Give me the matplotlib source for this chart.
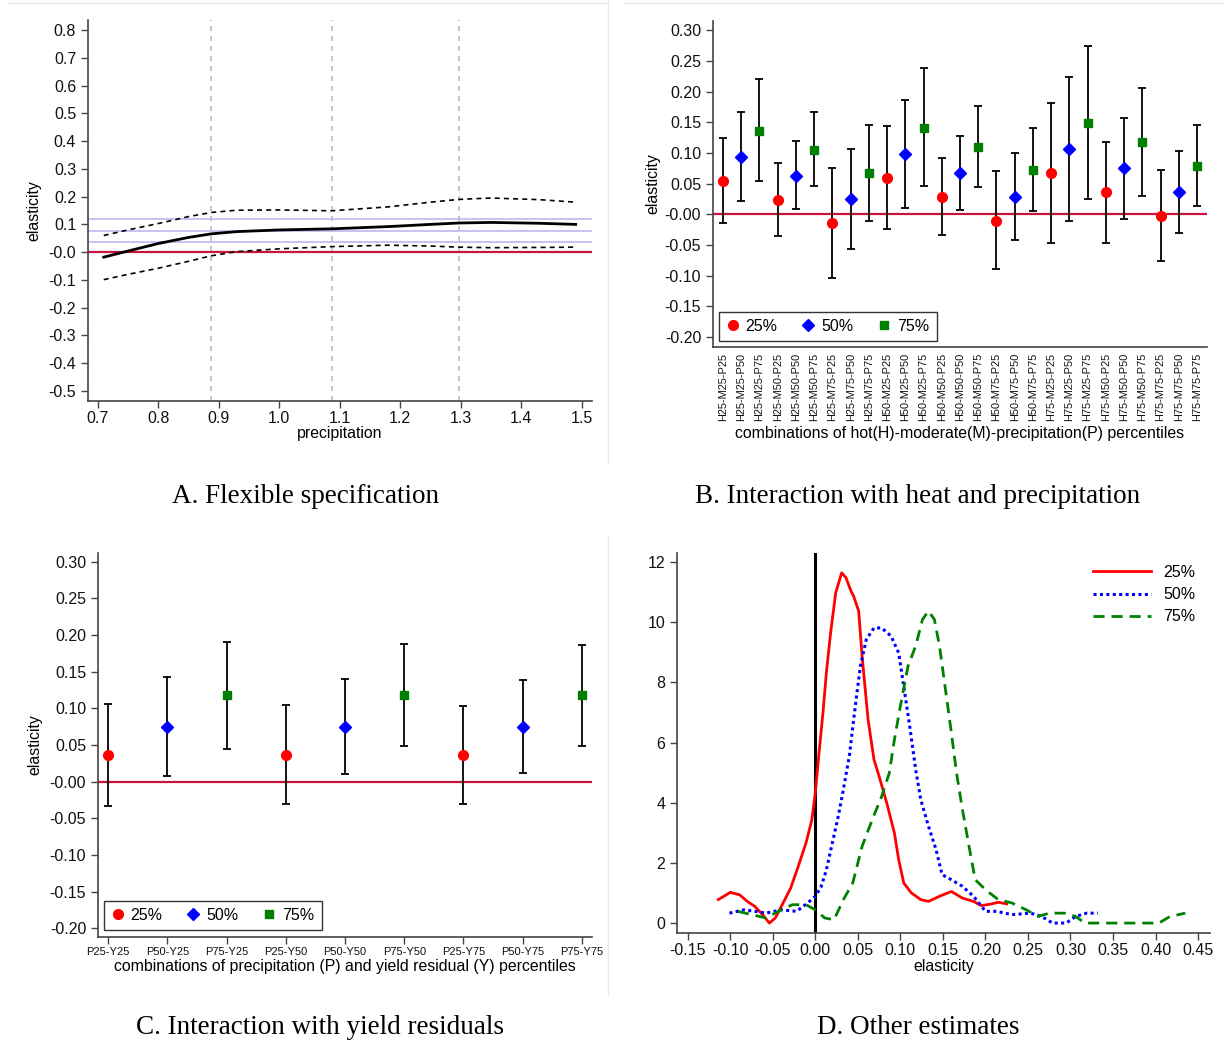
import numpy as np
import matplotlib
matplotlib.use("Agg")
import matplotlib.pyplot as plt
from matplotlib.lines import Line2D

plt.rcParams['font.family'] = ['Liberation Sans', 'DejaVu Sans']
plt.rcParams['axes.unicode_minus'] = False

# ---------------- data ----------------
# A. flexible specification
a_x = [0.71, 0.75, 0.80, 0.85, 0.888, 0.93, 1.00, 1.087, 1.18, 1.25, 1.297, 1.35, 1.43, 1.49]
a_est = [-0.018, 0.004, 0.031, 0.053, 0.066, 0.074, 0.080, 0.084, 0.092, 0.100, 0.105, 0.107, 0.104, 0.100]
a_hi = [0.060, 0.080, 0.103, 0.128, 0.143, 0.151, 0.152, 0.149, 0.163, 0.180, 0.190, 0.195, 0.189, 0.180]
a_lo = [-0.099, -0.080, -0.058, -0.033, -0.013, 0.002, 0.012, 0.020, 0.025, 0.022, 0.018, 0.016, 0.017, 0.018]
a_vlines = [0.888, 1.087, 1.297]
a_hlines = [0.037, 0.076, 0.118]

# B. heat x precipitation
b_labels = ['H25-M25-P25', 'H25-M25-P50', 'H25-M25-P75', 'H25-M50-P25', 'H25-M50-P50',
            'H25-M50-P75', 'H25-M75-P25', 'H25-M75-P50', 'H25-M75-P75', 'H50-M25-P25',
            'H50-M25-P50', 'H50-M25-P75', 'H50-M50-P25', 'H50-M50-P50', 'H50-M50-P75',
            'H50-M75-P25', 'H50-M75-P50', 'H50-M75-P75', 'H75-M25-P25', 'H75-M25-P50',
            'H75-M25-P75', 'H75-M50-P25', 'H75-M50-P50', 'H75-M50-P75', 'H75-M75-P25',
            'H75-M75-P50', 'H75-M75-P75']
b_est = [0.055, 0.094, 0.136, 0.024, 0.063, 0.105, -0.014, 0.025, 0.068, 0.060, 0.099, 0.141, 0.029, 0.067,
         0.110, -0.010, 0.029, 0.072, 0.067, 0.106, 0.149, 0.036, 0.075, 0.118, -0.002, 0.036, 0.079]
b_hi = [0.124, 0.167, 0.220, 0.083, 0.119, 0.167, 0.076, 0.107, 0.146, 0.144, 0.186, 0.238, 0.092, 0.128,
        0.177, 0.070, 0.100, 0.140, 0.181, 0.223, 0.275, 0.118, 0.157, 0.206, 0.072, 0.104, 0.145]
b_lo = [-0.014, 0.021, 0.054, -0.035, 0.008, 0.046, -0.104, -0.057, -0.010, -0.024, 0.011, 0.046, -0.034, 0.007,
        0.045, -0.089, -0.041, 0.005, -0.046, -0.011, 0.025, -0.046, -0.007, 0.030, -0.076, -0.030, 0.014]

# C. precipitation x yield residual
c_labels = ['P25-Y25', 'P50-Y25', 'P75-Y25', 'P25-Y50', 'P50-Y50', 'P75-Y50', 'P25-Y75', 'P50-Y75', 'P75-Y75']
c_est = [0.037, 0.075, 0.118, 0.037, 0.075, 0.118, 0.037, 0.075, 0.118]
c_hi = [0.106, 0.143, 0.191, 0.104, 0.140, 0.188, 0.103, 0.139, 0.187]
c_lo = [-0.033, 0.008, 0.045, -0.030, 0.011, 0.048, -0.030, 0.012, 0.049]

pct_labels = ['25%', '50%', '75%']

# D. densities of other estimates
d25_x = [-0.114, -0.100, -0.089, -0.080, -0.071, -0.062, -0.054, -0.047, -0.040, -0.029, -0.020, -0.011,
         -0.004, 0.000, 0.004, 0.009, 0.013, 0.018, 0.024, 0.031, 0.036, 0.042, 0.045, 0.051, 0.055, 0.062,
         0.069, 0.075, 0.084, 0.093, 0.098, 0.104, 0.113, 0.124, 0.133, 0.146, 0.160, 0.173, 0.186, 0.195,
         0.206, 0.215, 0.225]
d25_y = [0.78, 1.02, 0.94, 0.72, 0.55, 0.28, 0.00, 0.17, 0.55, 1.16, 1.89, 2.66, 3.44, 4.33, 5.55, 6.99,
         8.32, 9.65, 10.98, 11.64, 11.48, 11.03, 10.87, 10.37, 8.87, 6.77, 5.43, 4.88, 3.99, 2.99, 2.11, 1.33,
         1.00, 0.78, 0.72, 0.89, 1.05, 0.83, 0.72, 0.58, 0.63, 0.69, 0.64]
d50_x = [-0.101, -0.084, -0.071, -0.058, -0.040, -0.022, -0.009, 0.000, 0.007, 0.013, 0.020, 0.027, 0.033,
         0.040, 0.047, 0.053, 0.060, 0.069, 0.078, 0.089, 0.098, 0.104, 0.111, 0.118, 0.124, 0.133, 0.142,
         0.149, 0.160, 0.173, 0.186, 0.200, 0.213, 0.231, 0.253, 0.266, 0.279, 0.295, 0.306, 0.319, 0.332]
d50_y = [0.33, 0.44, 0.39, 0.33, 0.44, 0.39, 0.67, 0.89, 1.22, 1.77, 2.66, 3.55, 4.44, 5.55, 7.21, 8.54,
         9.43, 9.81, 9.81, 9.54, 8.98, 7.87, 6.54, 5.10, 4.10, 3.22, 2.44, 1.61, 1.44, 1.22, 0.89, 0.39, 0.39,
         0.28, 0.33, 0.22, 0.00, 0.00, 0.22, 0.33, 0.33]
d75_x = [-0.091, -0.075, -0.058, -0.040, -0.027, -0.011, 0.000, 0.011, 0.022, 0.033, 0.044, 0.055, 0.067,
         0.078, 0.087, 0.093, 0.100, 0.109, 0.118, 0.126, 0.133, 0.140, 0.146, 0.153, 0.160, 0.166, 0.173,
         0.180, 0.188, 0.200, 0.215, 0.231, 0.248, 0.262, 0.275, 0.293, 0.306, 0.317, 0.359, 0.404, 0.417, 0.435]
d75_y = [0.39, 0.28, 0.17, 0.44, 0.61, 0.61, 0.44, 0.17, 0.11, 0.78, 1.33, 2.55, 3.44, 4.21, 4.99, 6.10,
         7.21, 8.54, 9.21, 10.09, 10.37, 10.09, 9.21, 7.76, 6.32, 4.99, 3.77, 2.66, 1.44, 1.11, 0.78, 0.67,
         0.44, 0.22, 0.33, 0.33, 0.22, 0.00, 0.00, 0.00, 0.22, 0.33]

# ---------------- style ----------------
W, H = 1225, 1040
fig = plt.figure(figsize=(W / 100, H / 100), dpi=100)

RED0 = '#c8143c'
SPINE = '#444444'
TICKFS = 11.5
LABFS = 11.4
pct_colors = ['#ff0000', '#0000ff', '#008000']
pct_markers = ['o', 'D', 's']
pct_msize = [7, 6, 6]


def box(l, r, t, b):
    return [l / W, 1 - b / H, (r - l) / W, (b - t) / H]


def style(ax):
    for s in ['top', 'right']:
        ax.spines[s].set_visible(False)
    for s in ['left', 'bottom']:
        ax.spines[s].set_color(SPINE)
        ax.spines[s].set_linewidth(1.2)
    ax.tick_params(direction='out', length=5, width=1, color=SPINE, labelsize=TICKFS, labelcolor='#111111')


def dot_legend(ax, bbox):
    handles = [Line2D([], [], linestyle='none', marker=pct_markers[i], color=pct_colors[i],
                      markersize=pct_msize[i]) for i in range(3)]
    leg = ax.legend(handles, pct_labels, ncol=3, loc='lower left', bbox_to_anchor=bbox,
                    fontsize=11.5, frameon=True, fancybox=False, handletextpad=0.4,
                    columnspacing=1.55, borderpad=0.45, handlelength=0.8, borderaxespad=0)
    leg.get_frame().set_edgecolor('black')
    leg.get_frame().set_linewidth(1.0)


def dot_chart(ax, est, lo, hi):
    for i in range(len(est)):
        k = i % 3
        ax.errorbar(i, est[i], yerr=[[est[i] - lo[i]], [hi[i] - est[i]]], fmt='none',
                    ecolor='black', elinewidth=1.3, capsize=3, capthick=1.3, zorder=3)
        ax.plot(i, est[i], linestyle='none', marker=pct_markers[k], color=pct_colors[k],
                markersize=pct_msize[k], zorder=4)
    ax.axhline(0, color=RED0, lw=1.6, zorder=2)


# ---------------- A ----------------
axA = fig.add_axes(box(88, 592, 20, 401))
style(axA)
for v in a_vlines:
    axA.axvline(v, color='#bbbbbb', lw=1.2, linestyle=(0, (3, 3)), zorder=1)
for h in a_hlines:
    axA.axhline(h, color='#b4b4f0', lw=1.1, zorder=1)
axA.axhline(0, color=RED0, lw=1.6, zorder=2)
axA.plot(a_x, a_est, color='black', lw=2.0, zorder=3)
axA.plot(a_x, a_hi, color='black', lw=1.2, linestyle=(0, (3, 2.5)), zorder=3)
axA.plot(a_x, a_lo, color='black', lw=1.2, linestyle=(0, (3, 2.5)), zorder=3)
axA.set_xlim(0.684, 1.517)
axA.set_ylim(-0.536, 0.836)
axA.set_xticks(np.arange(0.7, 1.51, 0.1))
axA.set_xticklabels(['0.7', '0.8', '0.9', '1.0', '1.1', '1.2', '1.3', '1.4', '1.5'])
axA.tick_params(axis='x', pad=2)
yt = np.round(np.arange(-0.5, 0.81, 0.1), 1)
axA.set_yticks(yt)
axA.set_yticklabels(['%.1f' % v for v in yt])
axA.set_xlabel('precipitation', fontsize=LABFS, labelpad=0)
axA.set_ylabel('elasticity', fontsize=LABFS, labelpad=5)

# ---------------- B ----------------
axB = fig.add_axes(box(713, 1207, 21, 347))
style(axB)
dot_chart(axB, b_est, b_lo, b_hi)
axB.set_xlim(-0.55, len(b_est) - 0.45)
axB.set_ylim(-0.216, 0.315)
yt = np.round(np.arange(-0.2, 0.31, 0.05), 2)
axB.set_yticks(yt)
axB.set_yticklabels(['%.2f' % v for v in yt])
axB.set_xticks(range(len(b_labels)))
axB.set_xticklabels(b_labels, rotation=90, fontsize=7.9)
axB.tick_params(axis='x', length=0, pad=4)
axB.set_xlabel('combinations of hot(H)-moderate(M)-precipitation(P) percentiles', fontsize=LABFS, labelpad=4)
axB.set_ylabel('elasticity', fontsize=LABFS, labelpad=3)
dot_legend(axB, (0.012, 0.018))

# ---------------- C ----------------
axC = fig.add_axes(box(98, 592, 553, 937))
style(axC)
dot_chart(axC, c_est, c_lo, c_hi)
axC.set_xlim(-0.17, len(c_est) - 1 + 0.17)
axC.set_ylim(-0.212, 0.312)
yt = np.round(np.arange(-0.2, 0.31, 0.05), 2)
axC.set_yticks(yt)
axC.set_yticklabels(['%.2f' % v for v in yt])
axC.set_xticks(range(len(c_labels)))
axC.set_xticklabels(c_labels, fontsize=8)
axC.tick_params(axis='x', pad=2)
axC.set_xlabel('combinations of precipitation (P) and yield residual (Y) percentiles', fontsize=LABFS, labelpad=2)
axC.set_ylabel('elasticity', fontsize=LABFS, labelpad=5)
dot_legend(axC, (0.012, 0.018))

# ---------------- D ----------------
axD = fig.add_axes(box(677, 1210, 553, 933))
style(axD)
axD.axvline(0, color='black', lw=2.2, zorder=2)
axD.plot(d25_x, d25_y, color='#ff0000', lw=2.0, label=pct_labels[0], zorder=3)
axD.plot(d50_x, d50_y, color='#0000ff', lw=2.2, linestyle=(0, (1, 1.1)), label=pct_labels[1], zorder=3)
axD.plot(d75_x, d75_y, color='#008000', lw=2.0, linestyle=(0, (4, 2.5)), label=pct_labels[2], zorder=3)
axD.set_xlim(-0.1626, 0.464)
axD.set_ylim(-0.33, 12.3)
xt = np.round(np.arange(-0.15, 0.451, 0.05), 2)
axD.set_xticks(xt)
axD.set_xticklabels(['%.2f' % v for v in xt])
axD.tick_params(axis='x', pad=2)
axD.set_yticks(range(0, 13, 2))
axD.set_xlabel('elasticity', fontsize=LABFS, labelpad=1)
axD.legend(loc='upper right', bbox_to_anchor=(0.985, 0.985), frameon=False, fontsize=11.5,
           handlelength=3.6, handletextpad=0.8, labelspacing=0.45, borderaxespad=0)

# ---------------- captions and faint panel frames ----------------
cap = dict(fontsize=19.5, family=['Liberation Serif', 'DejaVu Serif'], ha='center', va='center')
fig.text(305 / W, 1 - 496 / H, 'A. Flexible specification', **cap)
fig.text(918 / W, 1 - 496 / H, 'B. Interaction with heat and precipitation', **cap)
fig.text(320 / W, 1 - 1028 / H, 'C. Interaction with yield residuals', **cap)
fig.text(918 / W, 1 - 1028 / H, 'D. Other estimates', **cap)

frame = dict(color='#e4ecef', lw=1.0, transform=fig.transFigure)
fig.add_artist(Line2D([608 / W, 608 / W], [1, 1 - 463 / H], **frame))
fig.add_artist(Line2D([608 / W, 608 / W], [1 - 536 / H, 1 - 995 / H], **frame))
fig.add_artist(Line2D([8 / W, 608 / W], [1 - 3 / H, 1 - 3 / H], **frame))
fig.add_artist(Line2D([623 / W, 1 - 1 / W], [1 - 3 / H, 1 - 3 / H], **frame))

fig.savefig('out.png', dpi=100, facecolor='white')
